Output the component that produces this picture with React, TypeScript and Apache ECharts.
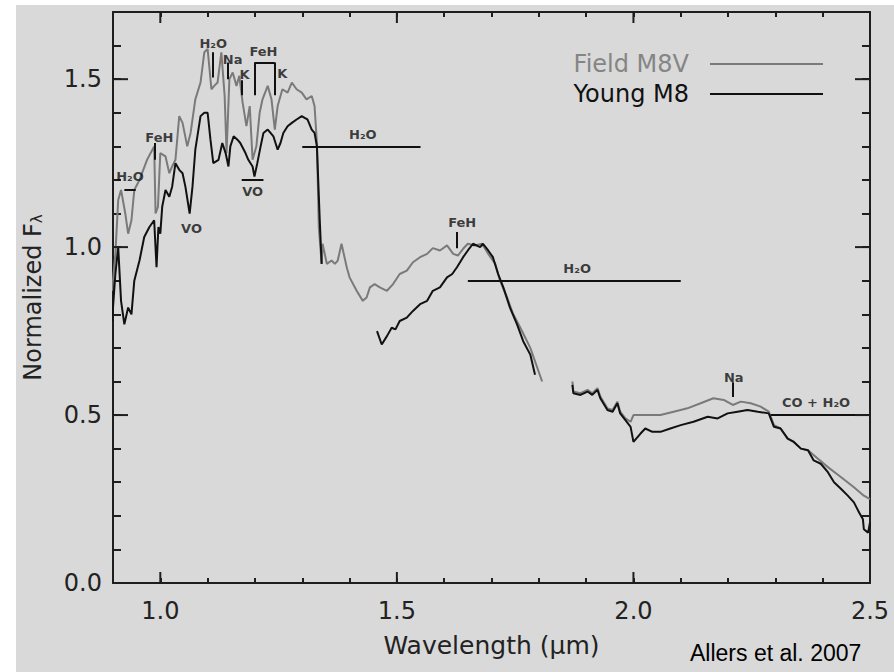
import React, { useEffect, useRef } from "react";
import * as echarts from "echarts";

const GAP: [number, string] = [1.84, "-"];

const FIELD_M8V: (number | string)[][] = [
  [0.898, 0.87], [0.905, 0.98], [0.911, 1.14], [0.917, 1.17], [0.926, 1.10], [0.932, 1.04], [0.939, 1.08],
  [0.945, 1.17], [0.956, 1.20], [0.972, 1.26], [0.987, 1.30], [0.990, 1.10], [0.995, 1.12], [1.000, 1.28],
  [1.011, 1.27], [1.019, 1.22], [1.025, 1.24], [1.032, 1.26], [1.040, 1.39], [1.047, 1.37], [1.057, 1.30],
  [1.064, 1.34], [1.074, 1.44], [1.085, 1.49], [1.093, 1.58], [1.100, 1.59], [1.108, 1.47], [1.114, 1.48],
  [1.121, 1.49], [1.129, 1.58], [1.136, 1.45], [1.140, 1.28], [1.146, 1.50], [1.153, 1.52], [1.161, 1.48],
  [1.167, 1.51], [1.174, 1.43], [1.182, 1.36], [1.189, 1.42], [1.195, 1.26], [1.203, 1.30], [1.210, 1.40],
  [1.216, 1.44], [1.227, 1.48], [1.235, 1.44], [1.242, 1.35], [1.248, 1.42], [1.258, 1.47], [1.269, 1.46],
  [1.278, 1.49], [1.288, 1.47], [1.299, 1.46], [1.309, 1.44], [1.320, 1.45], [1.326, 1.42], [1.331, 1.31],
  [1.335, 1.06], [1.341, 0.95], [1.343, 1.01], [1.352, 0.95], [1.362, 0.96], [1.369, 0.95], [1.375, 0.96],
  [1.383, 1.01], [1.394, 0.94], [1.400, 0.91], [1.415, 0.87], [1.428, 0.84], [1.436, 0.85], [1.443, 0.88],
  [1.453, 0.89], [1.464, 0.88], [1.479, 0.87], [1.492, 0.89], [1.506, 0.92], [1.521, 0.93], [1.534, 0.955],
  [1.549, 0.97], [1.564, 0.98], [1.576, 0.997], [1.591, 0.99], [1.606, 1.005], [1.619, 0.98], [1.629, 0.975],
  [1.640, 0.995], [1.650, 1.01], [1.665, 1.005], [1.680, 1.01], [1.693, 0.98], [1.708, 0.95], [1.718, 0.90],
  [1.733, 0.85], [1.746, 0.80], [1.761, 0.76], [1.782, 0.70], [1.807, 0.60],
  GAP,
  [1.871, 0.60], [1.873, 0.57], [1.888, 0.565], [1.903, 0.575], [1.913, 0.565], [1.924, 0.58], [1.930, 0.555],
  [1.945, 0.52], [1.956, 0.515], [1.966, 0.54], [1.972, 0.51], [1.983, 0.49], [1.994, 0.48], [2.000, 0.50],
  [2.030, 0.50], [2.057, 0.50], [2.085, 0.51], [2.114, 0.52], [2.142, 0.535], [2.169, 0.55], [2.191, 0.545],
  [2.210, 0.53], [2.227, 0.54], [2.248, 0.535], [2.269, 0.525], [2.286, 0.51], [2.297, 0.47], [2.311, 0.46],
  [2.326, 0.43], [2.339, 0.42], [2.354, 0.40], [2.369, 0.395], [2.390, 0.37], [2.411, 0.345], [2.439, 0.315],
  [2.466, 0.285], [2.487, 0.26], [2.500, 0.25],
];

const YOUNG_M8: (number | string)[][] = [
  [0.898, 0.78], [0.905, 0.92], [0.911, 1.00], [0.917, 0.84], [0.924, 0.77], [0.932, 0.82], [0.939, 0.80],
  [0.945, 0.90], [0.956, 0.96], [0.966, 1.03], [0.977, 1.06], [0.987, 1.08], [0.992, 0.94], [0.996, 1.06],
  [1.000, 1.04], [1.004, 1.12], [1.011, 1.17], [1.019, 1.15], [1.025, 1.18], [1.032, 1.25], [1.040, 1.23],
  [1.047, 1.22], [1.053, 1.18], [1.062, 1.10], [1.068, 1.18], [1.074, 1.29], [1.085, 1.39], [1.093, 1.40],
  [1.100, 1.40], [1.106, 1.32], [1.112, 1.25], [1.123, 1.26], [1.131, 1.31], [1.138, 1.28], [1.144, 1.24],
  [1.148, 1.30], [1.155, 1.33], [1.163, 1.32], [1.169, 1.31], [1.180, 1.28], [1.186, 1.26], [1.195, 1.24],
  [1.199, 1.21], [1.205, 1.25], [1.212, 1.30], [1.218, 1.34], [1.227, 1.35], [1.233, 1.34], [1.239, 1.33],
  [1.248, 1.29], [1.254, 1.31], [1.260, 1.34], [1.269, 1.36], [1.278, 1.37], [1.288, 1.38], [1.299, 1.39],
  [1.305, 1.385], [1.311, 1.38], [1.320, 1.35], [1.326, 1.34], [1.331, 1.30], [1.337, 1.08], [1.341, 0.95],
  [1.40, "-"],
  [1.458, 0.75], [1.468, 0.71], [1.479, 0.735], [1.489, 0.76], [1.497, 0.755], [1.506, 0.78], [1.521, 0.79],
  [1.534, 0.81], [1.549, 0.83], [1.564, 0.84], [1.576, 0.87], [1.591, 0.88], [1.606, 0.91], [1.617, 0.92],
  [1.627, 0.94], [1.640, 0.97], [1.650, 0.99], [1.661, 1.01], [1.676, 1.00], [1.682, 1.01], [1.693, 0.99],
  [1.703, 0.97], [1.714, 0.92], [1.725, 0.88], [1.739, 0.82], [1.754, 0.77], [1.767, 0.72], [1.782, 0.68],
  [1.792, 0.62],
  GAP,
  [1.871, 0.59], [1.873, 0.565], [1.888, 0.56], [1.903, 0.57], [1.913, 0.56], [1.924, 0.575], [1.930, 0.55],
  [1.945, 0.515], [1.956, 0.51], [1.966, 0.535], [1.972, 0.505], [1.983, 0.485], [1.994, 0.465], [2.000, 0.42],
  [2.015, 0.445], [2.025, 0.46], [2.040, 0.45], [2.057, 0.45], [2.078, 0.46], [2.100, 0.47], [2.127, 0.48],
  [2.157, 0.495], [2.178, 0.49], [2.199, 0.505], [2.220, 0.51], [2.241, 0.515], [2.263, 0.51], [2.286, 0.505],
  [2.297, 0.465], [2.311, 0.46], [2.326, 0.43], [2.339, 0.42], [2.354, 0.40], [2.369, 0.395], [2.381, 0.365],
  [2.396, 0.355], [2.411, 0.33], [2.424, 0.30], [2.439, 0.28], [2.453, 0.26], [2.466, 0.24], [2.477, 0.21],
  [2.485, 0.19], [2.487, 0.16], [2.496, 0.15], [2.500, 0.18],
];

const X_MAJOR = [1.0, 1.5, 2.0, 2.5];
const Y_MAJOR = [0.5, 1.0, 1.5];

// [x1, y1, x2, y2] in data units
const BAND_LINES: number[][] = [
  [0.924, 1.17, 0.948, 1.17],
  [0.989, 1.31, 0.989, 1.26],
  [1.110, 1.58, 1.110, 1.505],
  [1.142, 1.55, 1.142, 1.50],
  [1.172, 1.497, 1.172, 1.452],
  [1.199, 1.452, 1.199, 1.55],
  [1.199, 1.55, 1.242, 1.55],
  [1.242, 1.55, 1.242, 1.452],
  [1.172, 1.20, 1.218, 1.20],
  [1.30, 1.30, 1.55, 1.30],
  [1.627, 1.045, 1.627, 0.997],
  [1.65, 0.90, 2.10, 0.90],
  [2.210, 0.598, 2.210, 0.554],
  [2.29, 0.50, 2.50, 0.50],
];

const BAND_LABELS: { name: string; x: number; y: number }[] = [
  { name: "H₂O", x: 0.936, y: 1.21 },
  { name: "FeH", x: 0.998, y: 1.325 },
  { name: "VO", x: 1.066, y: 1.055 },
  { name: "H₂O", x: 1.112, y: 1.607 },
  { name: "Na", x: 1.153, y: 1.56 },
  { name: "K", x: 1.178, y: 1.515 },
  { name: "FeH", x: 1.218, y: 1.583 },
  { name: "K", x: 1.258, y: 1.518 },
  { name: "VO", x: 1.195, y: 1.167 },
  { name: "H₂O", x: 1.428, y: 1.336 },
  { name: "FeH", x: 1.638, y: 1.074 },
  { name: "H₂O", x: 1.881, y: 0.935 },
  { name: "Na", x: 2.212, y: 0.613 },
  { name: "CO + H₂O", x: 2.386, y: 0.536 },
];

const FONT = "DejaVu Sans";
const AXIS_COLOR = "#1e1e1e";
const FIELD_COLOR = "#7a7a7a";
const YOUNG_COLOR = "#111111";

export default function App() {
  const ref = useRef<HTMLDivElement>(null);
  useEffect(() => {
    if (!ref.current) return;
    const chart = echarts.init(ref.current, undefined, { renderer: "svg" });
    const axisBase = {
      type: "value" as const,
      axisLine: { show: true, onZero: false, lineStyle: { color: AXIS_COLOR, width: 2 } },
      splitLine: { show: false },
    };
    const xFmt = (v: number) => {
      const d = v * 2;
      return Math.abs(d - Math.round(d)) < 1e-6 && v > 0.95 ? v.toFixed(1) : "";
    };
    const yFmt = (v: number) => {
      const d = v * 2;
      return Math.abs(d - Math.round(d)) < 1e-6 ? v.toFixed(1) : "";
    };
    const option: any = {
      animation: false,
      backgroundColor: "#ffffff",
      graphic: [
        { type: "rect", z: -10, shape: { x: 16, y: 5, width: 894, height: 672 }, style: { fill: "#d9d9d9" }, silent: true },
        {
          type: "text", left: 690, top: 641,
          style: { text: "Allers et al. 2007", fill: "#000", font: "23px 'Liberation Sans', Arial, sans-serif" },
        },
      ],
      grid: { left: 113, right: 24, top: 12, bottom: 89, containLabel: false },
      legend: {
        orient: "vertical", right: 66, top: 47, align: "right", icon: "rect",
        itemWidth: 113, itemHeight: 2, itemGap: 6, selectedMode: false,
        textStyle: { fontFamily: FONT, fontSize: 24, padding: [0, 16, 0, 0] },
        data: [
          { name: "Field M8V", textStyle: { color: "#858585" } },
          { name: "Young M8", textStyle: { color: "#111" } },
        ],
      },
      xAxis: [
        {
          ...axisBase, position: "bottom", min: 0.9, max: 2.5, interval: 0.1,
          axisTick: { show: true, inside: true, length: 5, lineStyle: { color: AXIS_COLOR, width: 2 } },
          axisLabel: { formatter: xFmt, margin: 16, fontFamily: FONT, fontSize: 24, color: "#222", showMaxLabel: true, showMinLabel: true },
          name: "Wavelength (μm)", nameLocation: "middle", nameGap: 50,
          nameTextStyle: { fontFamily: FONT, fontSize: 25, color: "#222" },
        },
        {
          ...axisBase, position: "top", min: 0.9, max: 2.5, interval: 0.1,
          axisTick: { show: true, inside: true, length: 5, lineStyle: { color: AXIS_COLOR, width: 2 } },
          axisLabel: { show: false },
        },
      ],
      yAxis: [
        {
          ...axisBase, position: "left", min: 0, max: 1.7, interval: 0.1,
          axisTick: { show: true, inside: true, length: 8, lineStyle: { color: AXIS_COLOR, width: 2 } },
          axisLabel: { formatter: yFmt, margin: 11, fontFamily: FONT, fontSize: 24, color: "#222" },
          name: "Normalized F{s|λ}", nameLocation: "middle", nameGap: 68, nameRotate: 90,
          nameTextStyle: {
            fontFamily: FONT, fontSize: 24, color: "#222",
            rich: { s: { fontFamily: FONT, fontSize: 15, color: "#222", padding: [8, 0, 0, 0] } },
          },
        },
        {
          ...axisBase, position: "right", min: 0, max: 1.7, interval: 0.1,
          axisTick: { show: true, inside: true, length: 8, lineStyle: { color: AXIS_COLOR, width: 2 } },
          axisLabel: { show: false },
        },
      ],
      series: [
        {
          name: "Field M8V", type: "line", data: FIELD_M8V, showSymbol: false, symbol: "none",
          color: FIELD_COLOR, lineStyle: { color: FIELD_COLOR, width: 2 }, z: 3,
        },
        {
          name: "Young M8", type: "line", data: YOUNG_M8, showSymbol: false, symbol: "none",
          color: YOUNG_COLOR, lineStyle: { color: YOUNG_COLOR, width: 2 }, z: 4,
          markLine: {
            silent: true, symbol: ["none", "none"], animation: false,
            label: { show: false },
            lineStyle: { color: "#111", width: 2, type: "solid" },
            data: BAND_LINES.map((l) => [{ coord: [l[0], l[1]] }, { coord: [l[2], l[3]] }]),
          },
        },
        {
          name: "bands", type: "scatter", symbolSize: 0, silent: true, z: 5,
          data: BAND_LABELS.map((b) => ({ name: b.name, value: [b.x, b.y] })),
          label: {
            show: true, position: "inside", formatter: "{b}",
            fontFamily: FONT, fontSize: 13, fontWeight: "bold", color: "#111",
          },
        },
        {
          name: "xMajor", type: "custom", silent: true, clip: false, z: 6,
          data: X_MAJOR.map((v) => [v, 0]),
          encode: { x: 0, y: 1 },
          renderItem: (params: any, api: any) => {
            const v = api.value(0);
            const b = api.coord([v, 0]);
            const t = api.coord([v, 1.7]);
            const st = { stroke: AXIS_COLOR, lineWidth: 2 };
            return {
              type: "group",
              children: [
                { type: "line", shape: { x1: b[0], y1: b[1], x2: b[0], y2: b[1] - 11 }, style: st },
                { type: "line", shape: { x1: t[0], y1: t[1], x2: t[0], y2: t[1] + 11 }, style: st },
              ],
            };
          },
        },
        {
          name: "yMajor", type: "custom", silent: true, clip: false, z: 6,
          data: Y_MAJOR.map((v) => [0.9, v]),
          encode: { x: 0, y: 1 },
          renderItem: (params: any, api: any) => {
            const v = api.value(1);
            const l = api.coord([0.9, v]);
            const r = api.coord([2.5, v]);
            const st = { stroke: AXIS_COLOR, lineWidth: 2 };
            return {
              type: "group",
              children: [
                { type: "line", shape: { x1: l[0], y1: l[1], x2: l[0] + 15, y2: l[1] }, style: st },
                { type: "line", shape: { x1: r[0], y1: r[1], x2: r[0] - 15, y2: r[1] }, style: st },
              ],
            };
          },
        },
      ],
    };
    chart.setOption(option);
    return () => chart.dispose();
  }, []);
  return (
    <div
      ref={ref}
      style={{ position: "fixed", left: 0, top: 0, width: 894, height: 672 }}
    />
  );
}
